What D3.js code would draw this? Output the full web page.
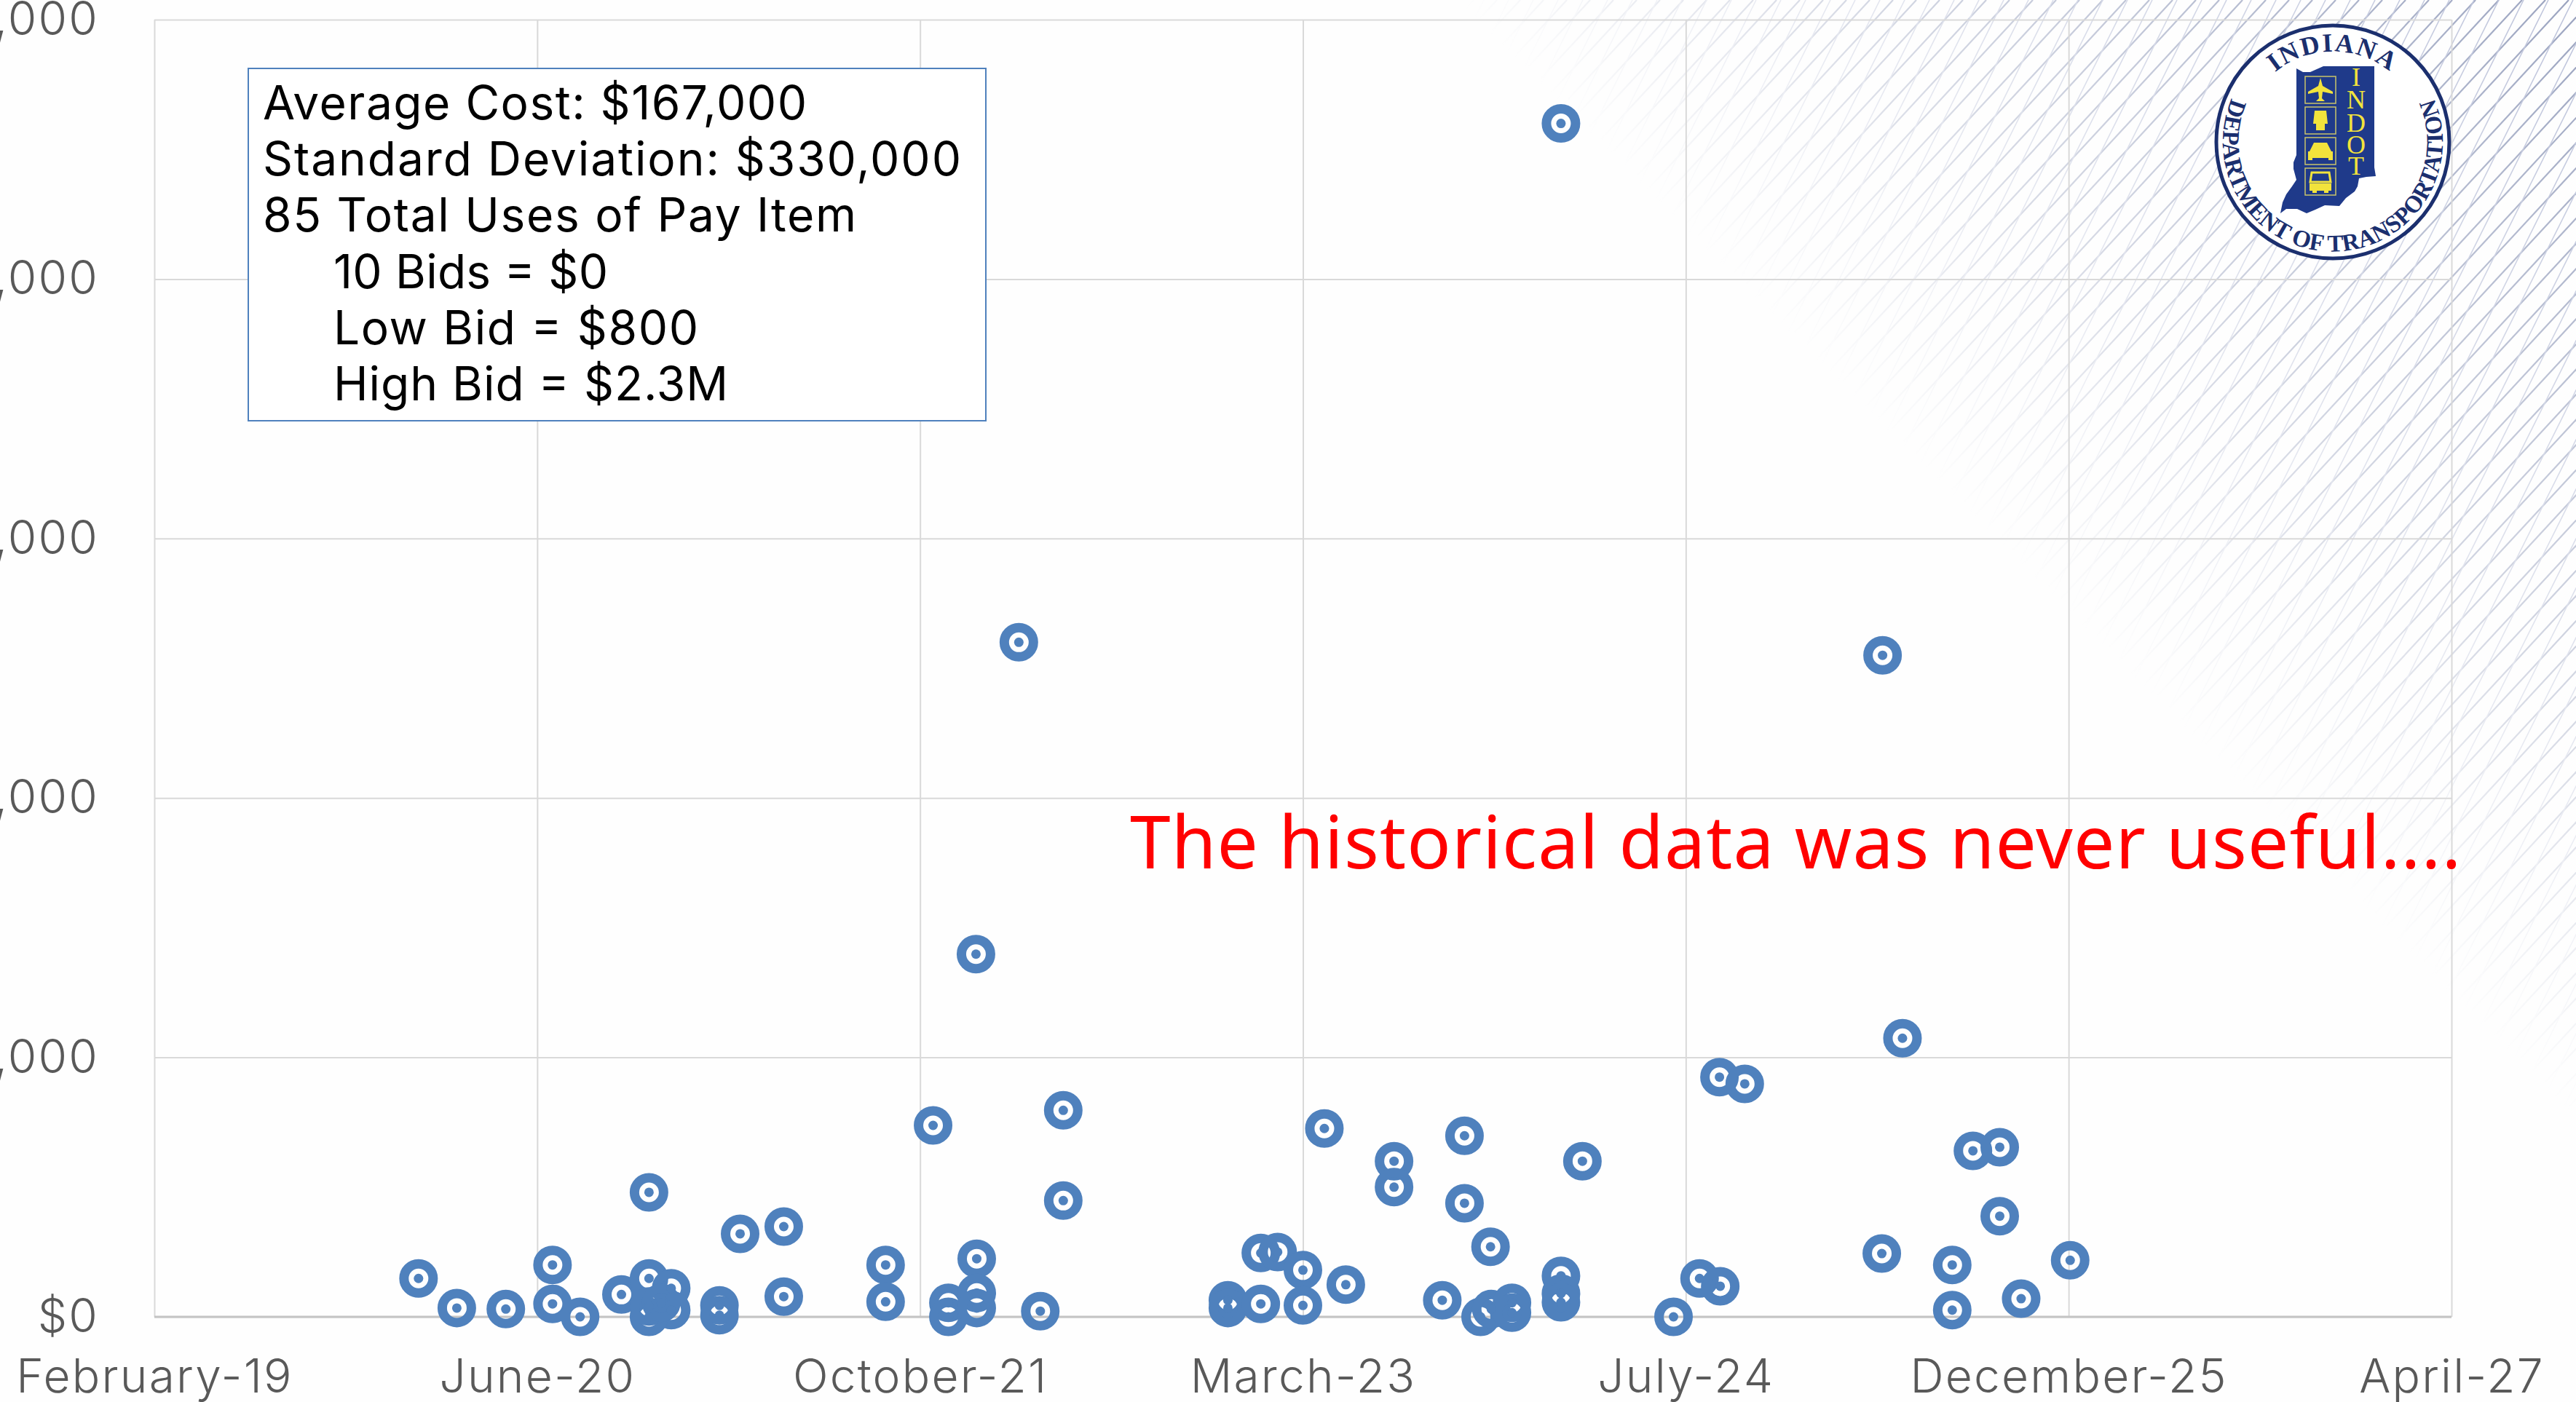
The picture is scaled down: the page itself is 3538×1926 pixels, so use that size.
<!DOCTYPE html>
<html>
<head>
<meta charset="utf-8">
<script src="https://cdn.jsdelivr.net/npm/d3@7"></script>
<style>
  html, body { margin: 0; padding: 0; background: #fefefe; overflow: hidden; }
  text { font-family: Inter, "Open Sans", sans-serif; }
  .tick text { fill: #595959; font-size: 64px; font-weight: 300; letter-spacing: 2.2px; }
  .tick line { stroke: #d9d9d9; stroke-width: 2; }
  .domain { display: none; }
  .info { fill: #000; font-size: 64px; font-weight: 400; }
  .note { fill: #ff0000; font-family: "Noto Sans"; font-size: 100px; letter-spacing: 1.1px; }
  .ring { fill: none; stroke: #4f81bd; stroke-width: 13; }
  .dot { fill: #4f81bd; }
</style>
</head>
<body>
<div id="chart"></div>
<script>
// bid date as excel serial day, and cost of that bid in dollars
const bidDates = [
  43845, 43895, 43959, 44020, 44020, 44056, 44146, 44110, 44146, 44175,
  44175, 44146, 44146, 44162, 44238, 44238, 44265, 44322, 44322, 44455,
  44455, 44537, 44537, 44574, 44574, 44574, 44657, 44687, 44687, 44629,
  44573, 44517, 44902, 44902, 44945, 44945, 44967, 45000, 45000, 45056,
  45028, 45119, 45119, 45211, 45211, 45365, 45245, 45182, 45232, 45246,
  45273, 45273, 45337, 45337, 45337, 45337, 45484, 45518, 45545, 45544,
  45577, 45757, 45783, 45875, 45910, 45910, 45756, 45848, 46002, 45938,
  45848
];
const bidCosts = [
  74000, 17000, 15000, 100000, 25000, 0, 240000, 43000, 74000, 55000,
  13000, 0, 20000, 27000, 22000, 3000, 160000, 174000, 39000, 100000,
  29000, 27000, 0, 112000, 46000, 17000, 11000, 224000, 398000, 1300000,
  699000, 369000, 32000, 17000, 25000, 123000, 125000, 90000, 22000, 62000,
  363000, 300000, 250000, 349000, 219000, 300000, 135000, 32000, 0, 15000,
  27000, 8000, 79000, 45000, 28000, 2300000, 0, 74000, 59000, 462000,
  449000, 1275000, 537000, 320000, 327000, 194000, 122000, 100000, 109000, 35000,
  13000
];
const xTicks = [43500, 44000, 44500, 45000, 45500, 46000, 46500];
const xTickLabels = ["February-19", "June-20", "October-21", "March-23", "July-24", "December-25", "April-27"];
const yTicks = [0, 500000, 1000000, 1500000, 2000000, 2500000];
const infoLines = ["Average Cost: $167,000", "Standard Deviation: $330,000", "85 Total Uses of Pay Item"];
const infoSubLines = ["10 Bids = $0", "Low Bid = $800", "High Bid = $2.3M"];

const width = 3538, height = 1926;
const margin = { t: 27, l: 212, r: 171, b: 117 };
const inner_w = width - margin.l - margin.r;
const inner_h = height - margin.t - margin.b;

const svg = d3.select("#chart").append("svg").attr("width", width).attr("height", height);
const defs = svg.append("defs");

// background hatching, fades out away from the top right corner
const grad = defs.append("linearGradient").attr("id", "fade")
  .attr("gradientUnits", "userSpaceOnUse")
  .attr("x1", 2650).attr("y1", 650).attr("x2", 3419).attr("y2", -119);
grad.append("stop").attr("offset", 0).attr("stop-color", "#fff").attr("stop-opacity", 0);
grad.append("stop").attr("offset", 0.3).attr("stop-color", "#fff").attr("stop-opacity", 0.35);
grad.append("stop").attr("offset", 1).attr("stop-color", "#fff").attr("stop-opacity", 1);
defs.append("mask").attr("id", "fadeMask").attr("maskUnits", "userSpaceOnUse")
  .attr("x", 0).attr("y", 0).attr("width", width).attr("height", height)
  .append("rect").attr("width", width).attr("height", height).attr("fill", "url(#fade)");

const hatch = svg.append("g").attr("mask", "url(#fadeMask)").attr("fill", "none");
function hatchFamily(step, slope, color, w) {
  hatch.selectAll(null).data(d3.range(1800, 5600, step)).enter().append("line")
    .attr("x1", d => d).attr("y1", 0)
    .attr("x2", d => d - 1926 / slope).attr("y2", 1926)
    .attr("stroke", color).attr("stroke-width", w);
}
hatchFamily(32, 1.08, "#9aa3bf", 2.2);
hatchFamily(34, 2.0, "#bcc3da", 1.6);

const x_scale = d3.scaleLinear().domain([43500, 46500]).range([0, inner_w]);
const y_scale = d3.scaleLinear().domain([0, 2500000]).range([inner_h, 0]);

const graph = svg.append("g").attr("transform", "translate(" + margin.l + "," + margin.t + ")");

const xAxis = graph.append("g").attr("transform", "translate(0," + inner_h + ")")
  .call(d3.axisBottom(x_scale).tickValues(xTicks).tickSize(-inner_h)
    .tickFormat((d, i) => xTickLabels[i]));
xAxis.selectAll("text").attr("y", 0).attr("dy", 104);

const yAxis = graph.append("g")
  .call(d3.axisLeft(y_scale).tickValues(yTicks).tickSize(-inner_w).tickFormat(d3.format("$,")));
yAxis.selectAll("text").attr("x", -76).attr("dy", "0.32em");

// x axis line is darker than the grid
graph.append("line").attr("x1", 0).attr("x2", inner_w).attr("y1", inner_h).attr("y2", inner_h)
  .attr("stroke", "#c4c4c4").attr("stroke-width", 3);

const points = graph.append("g");
points.selectAll(".ring").data(bidDates).enter().append("circle")
  .attr("class", "ring")
  .attr("cx", d => x_scale(d))
  .attr("cy", (d, i) => y_scale(bidCosts[i]))
  .attr("r", 20);
points.selectAll(".dot").data(bidDates).enter().append("circle")
  .attr("class", "dot")
  .attr("cx", d => x_scale(d))
  .attr("cy", (d, i) => y_scale(bidCosts[i]))
  .attr("r", 6.5);

// stats box, text fitted to the widths of the original lines
svg.append("rect").attr("x", 341).attr("y", 94).attr("width", 1013).attr("height", 484)
  .attr("fill", "#fff").attr("stroke", "#4f81bd").attr("stroke-width", 2);
const infoBaseline = d3.scaleLinear().domain([0, 5]).range([164, 550]);
const infoFit = [747, 959, 815];
const infoSubFit = [377, 501, 542];
svg.selectAll(".infoTop").data(infoLines).enter().append("text")
  .attr("class", "info").attr("x", 361).attr("y", (d, i) => infoBaseline(i))
  .attr("textLength", (d, i) => infoFit[i]).text(d => d);
svg.selectAll(".infoSub").data(infoSubLines).enter().append("text")
  .attr("class", "info").attr("x", 458).attr("y", (d, i) => infoBaseline(i + 3))
  .attr("textLength", (d, i) => infoSubFit[i]).text(d => d);

svg.append("text").attr("class", "note").attr("x", 1552).attr("y", 1193)
  .text("The historical data was never useful....");

// INDOT seal
const navy = "#1f3a8a", yellow = "#f2e33c", sealBlue = "#1b2f6e";
const seal = svg.append("g").attr("transform", "translate(3204,195)");
seal.append("circle").attr("r", 160).attr("fill", "#fff").attr("stroke", sealBlue).attr("stroke-width", 5);
defs.append("path").attr("id", "arcTop").attr("d", "M -107 -63 A 124 124 0 0 1 107 -63");
defs.append("path").attr("id", "arcBottom").attr("d", "M -107 -107 A 151 151 0 1 0 107 -107");
seal.append("text").attr("font-size", 36).attr("font-weight", "bold").attr("fill", sealBlue)
  .style("font-family", "Liberation Serif").style("letter-spacing", "2px")
  .append("textPath").attr("href", "#arcTop").attr("startOffset", "50%").attr("text-anchor", "middle").text("INDIANA");
seal.append("text").attr("font-size", 33).attr("font-weight", "bold").attr("fill", sealBlue)
  .style("font-family", "Liberation Serif")
  .append("textPath").attr("href", "#arcBottom").attr("startOffset", "50%").attr("text-anchor", "middle").text("DEPARTMENT OF TRANSPORTATION");

const state = svg.append("g");
state.append("path").attr("fill", navy)
  .attr("d", "M3154 94 L3163 99 L3173 99 L3191 91 L3261 91 L3261 230 L3263 242 L3250 243 L3240 245 L3238 256 L3234 263 L3222 272 L3213 283 L3193 282 L3180 288 L3168 293 L3155 287 L3140 287 L3132 293 L3135 278 L3140 267 L3148 256 L3154 247 L3150 232 L3150 223 L3154 213 Z");
const boxes = [105, 147, 189, 231];
state.selectAll(".box").data(boxes).enter().append("rect")
  .attr("x", 3166).attr("y", d => d).attr("width", 42).attr("height", 37)
  .attr("fill", "none").attr("stroke", "#c9c46a").attr("stroke-width", 1.5);
// plane
state.append("path").attr("fill", yellow)
  .attr("d", "M3187 107 L3190 118 L3204 126 L3204 129 L3190 126 L3189 135 L3193 139 L3181 139 L3185 135 L3184 126 L3170 129 L3170 126 L3184 118 Z");
// train
state.append("path").attr("fill", yellow).attr("d", "M3179 152 L3195 152 L3197 170 L3193 170 L3193 179 L3181 179 L3181 170 L3177 170 Z");
// car
state.append("path").attr("fill", yellow).attr("d", "M3178 196 L3196 196 L3202 208 L3204 208 L3204 220 L3198 220 L3198 217 L3176 217 L3176 220 L3170 220 L3170 208 L3172 208 Z");
// bus
state.append("path").attr("fill", "none").attr("stroke", yellow).attr("stroke-width", 3)
  .attr("d", "M3175 237 L3199 237 L3201 250 L3173 250 Z");
state.append("path").attr("fill", yellow).attr("d", "M3172 252 L3202 252 L3202 262 L3198 262 L3198 265 L3192 265 L3192 262 L3182 262 L3182 265 L3176 265 L3176 262 L3172 262 Z");
const indotLetters = ["I", "N", "D", "O", "T"];
const indotY = [118, 149, 181, 211, 240];
state.selectAll(".indot").data(indotLetters).enter().append("text")
  .attr("x", 3236).attr("y", (d, i) => indotY[i]).attr("text-anchor", "middle")
  .attr("font-size", 36).attr("fill", yellow).style("font-family", "Liberation Serif").text(d => d);
</script>
</body>
</html>
